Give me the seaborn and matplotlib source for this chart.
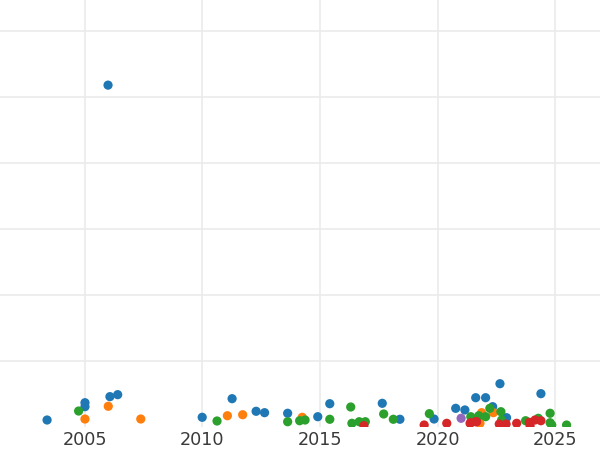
import matplotlib
matplotlib.use("Agg")
import matplotlib.pyplot as plt
import seaborn as sns
import pandas as pd

# valeurs (année, valeur)
blue_year = [2003.41, 2005.02, 2005.02, 2006.0, 2006.08, 2006.41, 2010.0, 2011.27,
             2012.29, 2012.65, 2013.63, 2014.91, 2015.42, 2017.65, 2018.40, 2019.85,
             2020.77, 2021.16, 2021.62, 2022.04, 2022.34, 2022.65, 2022.93, 2024.39]
blue_val = [1.06, 3.68, 3.08, 51.8, 4.6, 4.9, 1.47, 4.29,
            2.38, 2.17, 2.08, 1.56, 3.53, 3.59, 1.17, 1.21,
            2.83, 2.58, 4.44, 4.44, 3.08, 6.56, 1.41, 5.05]

orange_year = [2005.02, 2006.01, 2007.39, 2011.07, 2011.72, 2014.25, 2021.87, 2022.37, 2021.8]
orange_val = [1.21, 3.14, 1.21, 1.71, 1.86, 1.47, 2.17, 2.17, 0.56]

green_year = [2004.75, 2010.63, 2013.63, 2014.14, 2014.37, 2015.42, 2016.31, 2016.36,
              2016.67, 2016.93, 2017.71, 2018.12, 2019.65, 2021.41, 2021.75, 2022.04,
              2022.22, 2022.69, 2022.72, 2023.74, 2024.28, 2024.78, 2024.78, 2024.85,
              2025.48]
green_val = [2.42, 0.91, 0.8, 0.95, 1.06, 1.17, 3.03, 0.56,
             0.8, 0.8, 1.97, 1.17, 2.02, 1.56, 1.71, 1.56,
             2.83, 2.32, 1.06, 0.95, 1.32, 2.08, 0.65, 0.3,
             0.3]

red_year = [2016.87, 2019.43, 2020.39, 2021.38, 2021.62, 2021.41, 2021.66, 2022.62,
            2022.91, 2023.36, 2023.9, 2024.14, 2024.39, 2023.93]
red_val = [0.2, 0.3, 0.56, 0.56, 0.8, 0.65, 0.8, 0.45,
           0.45, 0.56, 0.71, 1.06, 0.95, 0.2]

purple_year = [2021.0]
purple_val = [1.32]

groups = ["A", "B", "C", "D", "E"]
colors = ["#1f77b4", "#ff7f0e", "#2ca02c", "#d62728", "#9467bd"]
x_ticks = [2005, 2010, 2015, 2020, 2025]

frames = []
for g, xs, ys in zip(groups,
                     [blue_year, orange_year, green_year, red_year, purple_year],
                     [blue_val, orange_val, green_val, red_val, purple_val]):
    frames.append(pd.DataFrame({"year": xs, "value": ys, "group": g}))
df = pd.concat(frames, ignore_index=True)

sns.set_theme(style="whitegrid")
fig = plt.figure(figsize=(6, 4.5), dpi=100)
ax = fig.add_axes([0, 23 / 450, 1, 427 / 450])

sns.scatterplot(data=df, x="year", y="value", hue="group",
                palette=dict(zip(groups, colors)), s=44, linewidth=0,
                legend=False, ax=ax)

ax.set_xlim(2001.41, 2026.9)
ax.set_ylim(0, 64.7)
ax.set_xticks(x_ticks)
ax.set_yticks(range(10, 70, 10))
ax.set_yticklabels([])
ax.set_xlabel("")
ax.set_ylabel("")
ax.grid(True, color="#ebebeb", linewidth=1.2)
ax.tick_params(axis="x", labelsize=12.7, labelcolor="#3a3a3a", length=0, pad=3)
ax.tick_params(axis="y", length=0)
for s in ax.spines.values():
    s.set_visible(False)

fig.savefig("out.png", dpi=100)
plt.close(fig)
